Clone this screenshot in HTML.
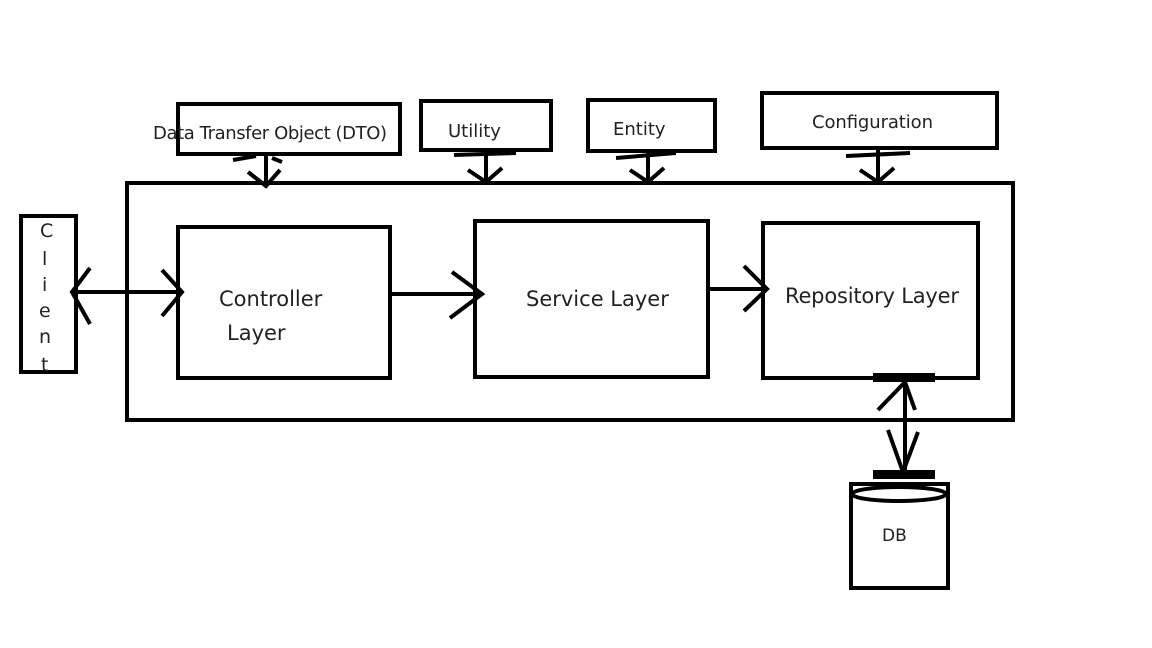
<!DOCTYPE html>
<html><head><meta charset="utf-8"><style>
html,body{margin:0;padding:0;background:#fff;}
svg{display:block;}
text{font-family:"DejaVu Sans","Liberation Sans",sans-serif;fill:#222;}
</style></head><body>
<svg width="1152" height="648" viewBox="0 0 1152 648" xmlns="http://www.w3.org/2000/svg">
<g fill="none" stroke="#000" stroke-width="4">
<rect x="127" y="183" width="886" height="237"/>
<rect x="21" y="216" width="55" height="156"/>
<rect x="178" y="227" width="212" height="151"/>
<rect x="475" y="221" width="233" height="156"/>
<rect x="763" y="223" width="215" height="155"/>
<rect x="178" y="104" width="222" height="50"/>
<rect x="421" y="101" width="130" height="49"/>
<rect x="588" y="100" width="127" height="51"/>
<rect x="762" y="93" width="235" height="55"/>
<rect x="851" y="484" width="97" height="104"/>
<ellipse cx="899" cy="494" rx="47" ry="7"/>
<line x1="72" y1="292" x2="182" y2="292"/>
<polyline points="90,268 72,292 90,324"/>
<polyline points="162,270 182,292 162,316"/>
<line x1="390" y1="294" x2="482" y2="294"/>
<polyline points="452,272 482,294 450,318"/>
<line x1="710" y1="289" x2="767" y2="289"/>
<polyline points="744,266 767,289 744,311"/>
<line x1="266" y1="154" x2="266" y2="186"/>
<polyline points="248,172 266,186 280,170"/>
<line x1="233" y1="160" x2="256" y2="156"/><line x1="272" y1="158" x2="282" y2="162"/>
<line x1="486" y1="150" x2="486" y2="183"/>
<polyline points="468,170 486,182 502,168"/>
<line x1="454" y1="155" x2="516" y2="153"/>
<line x1="648" y1="151" x2="648" y2="183"/>
<polyline points="630,170 648,182 664,168"/>
<line x1="616" y1="158" x2="676" y2="153"/>
<line x1="878" y1="148" x2="878" y2="183"/>
<polyline points="860,170 878,182 894,168"/>
<line x1="846" y1="156" x2="910" y2="153"/>
<line x1="905" y1="378" x2="905" y2="474"/>
<polyline points="878,410 905,382 915,410"/>
<polyline points="888,430 903,472 918,432"/>
</g>
<g fill="#000">
<rect x="873" y="373" width="62" height="9"/>
<rect x="873" y="470" width="62" height="9"/>
</g>
<g font-size="19">
<text x="40" y="237">C</text>
<text x="42" y="265">l</text>
<text x="42" y="291">i</text>
<text x="39" y="317">e</text>
<text x="39" y="343">n</text>
<text x="41" y="371">t</text>
</g>
<g font-size="21">
<text x="219" y="306">Controller</text>
<text x="227" y="340">Layer</text>
<text x="526" y="306">Service Layer</text>
<text x="785" y="303" textLength="174">Repository Layer</text>
</g>
<g font-size="18">
<text x="153" y="139" textLength="234">Data Transfer Object (DTO)</text>
<text x="448" y="137">Utility</text>
<text x="613" y="135">Entity</text>
<text x="812" y="128" textLength="121">Configuration</text>
</g>
<text x="882" y="541" font-size="17">DB</text>
</svg>
</body></html>
